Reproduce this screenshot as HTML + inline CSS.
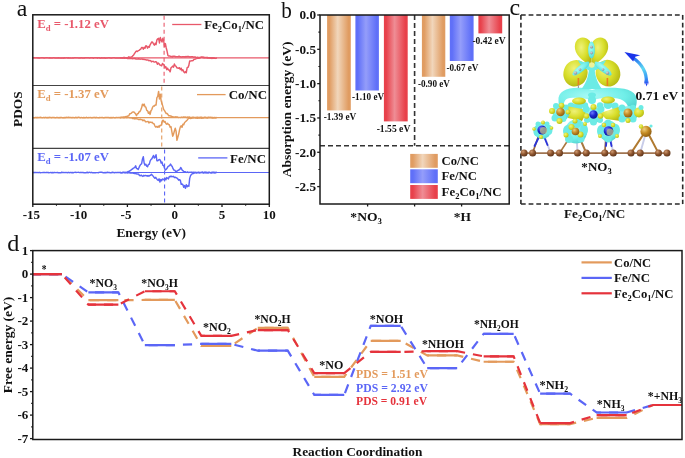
<!DOCTYPE html>
<html><head><meta charset="utf-8"><style>
html,body{margin:0;padding:0;background:#fff;overflow:hidden;}
svg{display:block;will-change:transform;}
</style></head><body>
<svg width="685" height="458" viewBox="0 0 685 458">
<rect width="685" height="458" fill="#fff"/>
<g fill="none" stroke-linejoin="round">
<line x1="32.8" y1="57.9" x2="269.3" y2="57.9" stroke="#e8586a" stroke-width="1.2"/>
<path d="M32.80,57.69 L33.65,57.64 L34.50,57.82 L35.35,57.90 L36.20,57.86 L37.05,57.65 L37.90,58.10 L38.75,57.73 L39.60,58.17 L40.45,57.84 L41.30,57.63 L42.15,57.77 L43.00,57.67 L43.85,58.09 L44.70,57.95 L45.55,57.82 L46.40,57.64 L47.25,57.72 L48.10,57.86 L48.95,57.95 L49.80,57.78 L50.65,58.02 L51.50,57.94 L52.35,58.13 L53.20,57.77 L54.05,57.67 L54.90,58.05 L55.75,57.89 L56.60,58.00 L57.45,57.94 L58.30,57.79 L59.15,57.96 L60.00,57.87 L60.85,58.17 L61.70,58.00 L62.55,58.02 L63.40,58.20 L64.25,57.77 L65.10,58.00 L65.95,57.88 L66.80,57.67 L67.65,58.06 L68.50,57.75 L69.35,58.12 L70.20,57.87 L71.05,58.13 L71.90,58.12 L72.75,57.85 L73.60,58.13 L74.45,57.69 L75.30,57.74 L76.15,57.89 L77.00,57.76 L77.85,57.85 L78.70,57.94 L79.55,58.01 L80.40,57.97 L81.25,57.63 L82.10,58.07 L82.95,58.08 L83.80,57.84 L84.65,57.98 L85.50,57.64 L86.35,57.70 L87.20,57.63 L88.05,57.69 L88.90,57.82 L89.75,58.12 L90.60,57.69 L91.45,57.81 L92.30,57.67 L93.15,58.20 L94.00,57.89 L94.85,57.66 L95.70,57.76 L96.55,57.70 L97.40,58.17 L98.25,57.69 L99.10,57.62 L99.95,58.19 L100.80,58.02 L101.65,57.82 L102.50,58.06 L103.35,58.07 L104.20,57.73 L105.05,58.19 L105.90,58.08 L106.75,58.04 L107.60,57.91 L108.45,57.62 L109.30,57.77 L110.15,58.02 L111.00,57.87 L111.85,58.19 L112.70,57.82 L113.55,57.74 L114.40,57.72 L115.25,58.14 L116.10,57.89 L116.95,58.08 L117.80,58.00 L118.65,58.07 L119.50,57.89 L120.35,58.05 L121.20,58.00 L122.05,57.74 L122.90,57.99 L123.75,57.50 L124.60,57.37 L125.45,57.81 L126.30,57.66 L127.15,57.65 L128.00,57.34 L128.85,56.76 L129.70,57.26 L130.55,57.09 L131.40,56.83 L132.25,56.49 L133.10,55.61 L133.95,54.48 L134.80,53.12 L135.65,51.83 L136.50,51.03 L137.35,51.55 L138.20,50.69 L139.05,50.32 L139.90,49.70 L140.75,49.12 L141.60,47.48 L142.45,47.47 L143.30,49.31 L144.15,47.36 L145.00,48.18 L145.85,45.77 L146.70,45.90 L147.55,48.15 L148.40,46.50 L149.25,47.29 L150.10,44.79 L150.95,43.38 L151.80,41.94 L152.65,42.25 L153.50,43.83 L154.35,45.19 L155.20,43.26 L156.05,44.72 L156.90,39.96 L157.75,38.80 L158.60,38.33 L159.45,42.94 L160.30,37.53 L161.15,40.08 L162.00,41.98 L162.85,38.31 L163.70,41.01 L164.55,46.62 L165.40,43.58 L166.25,48.00 L167.10,51.30 L167.95,55.53 L168.80,56.00 L169.65,55.94 L170.50,56.47 L171.35,56.42 L172.20,56.90 L173.05,56.08 L173.90,56.38 L174.75,56.15 L175.60,56.74 L176.45,56.60 L177.30,56.64 L178.15,56.77 L179.00,56.15 L179.85,56.72 L180.70,56.73 L181.55,56.96 L182.40,56.75 L183.25,56.77 L184.10,56.67 L184.95,57.09 L185.80,56.51 L186.65,56.72 L187.50,56.52 L188.35,56.55 L189.20,56.75 L190.05,56.94 L190.90,56.80 L191.75,56.67 L192.60,56.66 L193.45,57.18 L194.30,56.97 L195.15,57.03 L196.00,57.22 L196.85,57.39 L197.70,57.20 L198.55,57.60 L199.40,57.45 L200.25,57.46 L201.10,57.25 L201.95,57.07 L202.80,57.48 L203.65,57.21 L204.50,57.62 L205.35,57.69 L206.20,57.37 L207.05,57.54 L207.90,57.55 L208.75,57.91 L209.60,57.76 L210.45,57.98 L211.30,57.66 L212.15,57.69 L213.00,57.82 L213.85,57.85 L214.70,57.74" stroke="#e8586a" stroke-width="1.45"/>
<path d="M120.00,57.84 L120.85,57.65 L121.70,57.81 L122.55,58.01 L123.40,58.11 L124.25,58.28 L125.10,58.00 L125.95,57.87 L126.80,58.23 L127.65,58.46 L128.50,58.26 L129.35,58.43 L130.20,58.40 L131.05,58.56 L131.90,58.56 L132.75,58.72 L133.60,58.64 L134.45,58.45 L135.30,58.76 L136.15,59.14 L137.00,58.91 L137.85,58.98 L138.70,58.71 L139.55,59.08 L140.40,59.17 L141.25,58.87 L142.10,59.00 L142.95,59.48 L143.80,59.11 L144.65,59.63 L145.50,59.60 L146.35,60.02 L147.20,59.94 L148.05,59.95 L148.90,60.83 L149.75,60.39 L150.60,60.65 L151.45,61.75 L152.30,61.35 L153.15,61.31 L154.00,61.92 L154.85,62.11 L155.70,61.62 L156.55,62.14 L157.40,64.25 L158.25,63.03 L159.10,63.80 L159.95,65.15 L160.80,65.27 L161.65,65.78 L162.50,63.45 L163.35,64.50 L164.20,64.84 L165.05,67.79 L165.90,66.86 L166.75,69.64 L167.60,68.22 L168.45,70.06 L169.30,69.97 L170.15,71.84 L171.00,67.75 L171.85,67.17 L172.70,66.08 L173.55,67.17 L174.40,64.04 L175.25,65.74 L176.10,66.35 L176.95,68.02 L177.80,67.98 L178.65,68.30 L179.50,67.71 L180.35,69.60 L181.20,68.18 L182.05,70.66 L182.90,69.68 L183.75,71.82 L184.60,72.79 L185.45,71.55 L186.30,72.71 L187.15,67.70 L188.00,67.40 L188.85,65.36 L189.70,60.95 L190.55,61.08 L191.40,60.82 L192.25,60.66 L193.10,60.54 L193.95,59.40 L194.80,59.35 L195.65,58.85 L196.50,58.66 L197.35,58.33 L198.20,58.18 L199.05,58.26 L199.90,57.74 L200.75,57.52 L201.60,57.37 L202.45,57.34 L203.30,57.43 L204.15,57.73 L205.00,57.56 L205.85,57.60 L206.70,57.78 L207.55,58.09 L208.40,57.63 L209.25,58.12 L210.10,58.00 L210.95,57.78 L211.80,58.41 L212.65,58.37 L213.50,58.03 L214.35,58.17 L215.20,58.41 L216.05,58.21 L216.90,58.08" stroke="#e8586a" stroke-width="1.45"/>
<line x1="164.10" y1="15.8" x2="164.10" y2="84.5" stroke="#e8586a" stroke-width="1.1" stroke-dasharray="4,3"/>
<line x1="32.8" y1="117.6" x2="269.3" y2="117.6" stroke="#e39a5c" stroke-width="1.2"/>
<path d="M32.80,117.63 L33.65,117.77 L34.50,117.85 L35.35,117.48 L36.20,117.45 L37.05,117.72 L37.90,117.34 L38.75,117.65 L39.60,117.43 L40.45,117.31 L41.30,117.58 L42.15,117.69 L43.00,117.59 L43.85,117.45 L44.70,117.72 L45.55,117.31 L46.40,117.70 L47.25,117.45 L48.10,117.86 L48.95,117.32 L49.80,117.55 L50.65,117.42 L51.50,117.74 L52.35,117.42 L53.20,117.49 L54.05,117.44 L54.90,117.76 L55.75,117.87 L56.60,117.41 L57.45,117.55 L58.30,117.87 L59.15,117.54 L60.00,117.88 L60.85,117.33 L61.70,117.54 L62.55,117.83 L63.40,117.90 L64.25,117.50 L65.10,117.86 L65.95,117.32 L66.80,117.53 L67.65,117.50 L68.50,117.30 L69.35,117.51 L70.20,117.37 L71.05,117.42 L71.90,117.79 L72.75,117.56 L73.60,117.58 L74.45,117.85 L75.30,117.52 L76.15,117.32 L77.00,117.79 L77.85,117.32 L78.70,117.34 L79.55,117.45 L80.40,117.84 L81.25,117.46 L82.10,117.67 L82.95,117.73 L83.80,117.47 L84.65,117.75 L85.50,117.68 L86.35,117.31 L87.20,117.59 L88.05,117.87 L88.90,117.45 L89.75,117.60 L90.60,117.41 L91.45,117.74 L92.30,117.76 L93.15,117.50 L94.00,117.52 L94.85,117.35 L95.70,117.75 L96.55,117.34 L97.40,117.63 L98.25,117.89 L99.10,117.89 L99.95,117.35 L100.80,117.60 L101.65,117.57 L102.50,117.55 L103.35,117.70 L104.20,117.81 L105.05,117.37 L105.90,117.48 L106.75,117.52 L107.60,117.42 L108.45,117.45 L109.30,117.83 L110.15,117.50 L111.00,117.90 L111.85,117.44 L112.70,117.69 L113.55,117.36 L114.40,117.79 L115.25,117.85 L116.10,117.48 L116.95,117.41 L117.80,117.65 L118.65,117.52 L119.50,117.57 L120.35,117.72 L121.20,117.23 L122.05,117.41 L122.90,117.09 L123.75,116.85 L124.60,116.98 L125.45,116.74 L126.30,116.48 L127.15,116.53 L128.00,115.85 L128.85,115.68 L129.70,113.81 L130.55,113.70 L131.40,113.21 L132.25,112.13 L133.10,111.89 L133.95,112.02 L134.80,112.92 L135.65,114.01 L136.50,115.59 L137.35,113.72 L138.20,113.57 L139.05,111.75 L139.90,111.68 L140.75,109.86 L141.60,107.83 L142.45,104.19 L143.30,105.72 L144.15,104.07 L145.00,106.76 L145.85,107.15 L146.70,110.44 L147.55,110.62 L148.40,113.26 L149.25,111.96 L150.10,114.39 L150.95,110.72 L151.80,109.60 L152.65,107.07 L153.50,105.89 L154.35,106.18 L155.20,105.05 L156.05,105.06 L156.90,97.54 L157.75,96.31 L158.60,91.36 L159.45,98.92 L160.30,94.30 L161.15,100.90 L162.00,103.53 L162.85,106.38 L163.70,109.58 L164.55,110.61 L165.40,112.26 L166.25,113.47 L167.10,113.55 L167.95,114.58 L168.80,115.75 L169.65,115.67 L170.50,115.94 L171.35,116.27 L172.20,116.60 L173.05,116.78 L173.90,116.85 L174.75,117.30 L175.60,116.82 L176.45,117.03 L177.30,116.98 L178.15,117.49 L179.00,117.36 L179.85,117.37 L180.70,117.42 L181.55,117.04 L182.40,117.48 L183.25,117.02 L184.10,117.03 L184.95,117.13 L185.80,117.05 L186.65,117.48 L187.50,117.05 L188.35,117.14 L189.20,117.00 L190.05,117.48 L190.90,117.54 L191.75,117.41 L192.60,117.27 L193.45,117.24 L194.30,117.40 L195.15,117.57 L196.00,117.59 L196.85,117.30 L197.70,117.25 L198.55,117.47 L199.40,117.53 L200.25,117.19 L201.10,117.15 L201.95,117.29 L202.80,117.72 L203.65,117.54 L204.50,117.13 L205.35,117.22 L206.20,117.43 L207.05,117.71 L207.90,117.31 L208.75,117.22 L209.60,117.40 L210.45,117.42 L211.30,117.57 L212.15,117.36 L213.00,117.54 L213.85,117.82 L214.70,117.36 L215.55,117.66 L216.40,117.76" stroke="#e39a5c" stroke-width="1.45"/>
<path d="M120.00,117.46 L120.85,117.69 L121.70,117.51 L122.55,117.57 L123.40,117.74 L124.25,117.84 L125.10,117.62 L125.95,117.44 L126.80,117.77 L127.65,117.63 L128.50,117.39 L129.35,117.66 L130.20,117.73 L131.05,117.61 L131.90,117.95 L132.75,118.58 L133.60,118.41 L134.45,118.93 L135.30,118.55 L136.15,118.68 L137.00,118.90 L137.85,119.03 L138.70,119.55 L139.55,119.49 L140.40,119.27 L141.25,119.65 L142.10,119.77 L142.95,120.82 L143.80,120.04 L144.65,120.36 L145.50,121.88 L146.35,121.83 L147.20,121.64 L148.05,121.38 L148.90,122.99 L149.75,122.09 L150.60,122.19 L151.45,122.49 L152.30,122.31 L153.15,123.56 L154.00,123.74 L154.85,125.77 L155.70,127.08 L156.55,126.46 L157.40,127.27 L158.25,126.11 L159.10,127.28 L159.95,125.41 L160.80,125.57 L161.65,124.20 L162.50,120.47 L163.35,120.33 L164.20,122.17 L165.05,121.55 L165.90,123.56 L166.75,124.19 L167.60,123.34 L168.45,124.52 L169.30,124.78 L170.15,127.13 L171.00,126.67 L171.85,131.54 L172.70,136.22 L173.55,134.17 L174.40,130.99 L175.25,128.24 L176.10,131.39 L176.95,140.31 L177.80,137.20 L178.65,134.27 L179.50,130.02 L180.35,126.85 L181.20,125.74 L182.05,127.35 L182.90,124.16 L183.75,124.74 L184.60,122.55 L185.45,121.76 L186.30,120.89 L187.15,120.22 L188.00,118.92 L188.85,118.18 L189.70,118.40 L190.55,118.47 L191.40,118.30 L192.25,118.04 L193.10,118.10 L193.95,117.79 L194.80,117.73 L195.65,118.00 L196.50,117.98 L197.35,118.30 L198.20,118.05 L199.05,118.15 L199.90,118.03 L200.75,117.89 L201.60,118.20 L202.45,118.05 L203.30,117.92 L204.15,117.90 L205.00,117.89 L205.85,117.65 L206.70,117.74 L207.55,118.00 L208.40,117.62 L209.25,117.69 L210.10,117.55 L210.95,117.56 L211.80,117.83 L212.65,117.99 L213.50,117.62 L214.35,117.82 L215.20,117.60 L216.05,117.71 L216.90,117.43" stroke="#e39a5c" stroke-width="1.45"/>
<line x1="161.74" y1="86.5" x2="161.74" y2="147.4" stroke="#e39a5c" stroke-width="1.1" stroke-dasharray="4,3"/>
<line x1="32.8" y1="172.5" x2="269.3" y2="172.5" stroke="#5b66f6" stroke-width="1.2"/>
<path d="M32.80,172.22 L33.65,172.67 L34.50,172.50 L35.35,172.48 L36.20,172.56 L37.05,172.64 L37.90,172.46 L38.75,172.65 L39.60,172.34 L40.45,172.73 L41.30,172.62 L42.15,172.61 L43.00,172.47 L43.85,172.58 L44.70,172.45 L45.55,172.63 L46.40,172.35 L47.25,172.47 L48.10,172.45 L48.95,172.76 L49.80,172.59 L50.65,172.43 L51.50,172.78 L52.35,172.53 L53.20,172.67 L54.05,172.51 L54.90,172.54 L55.75,172.63 L56.60,172.58 L57.45,172.51 L58.30,172.77 L59.15,172.61 L60.00,172.66 L60.85,172.79 L61.70,172.23 L62.55,172.44 L63.40,172.45 L64.25,172.62 L65.10,172.36 L65.95,172.64 L66.80,172.52 L67.65,172.68 L68.50,172.33 L69.35,172.67 L70.20,172.58 L71.05,172.54 L71.90,172.78 L72.75,172.58 L73.60,172.69 L74.45,172.38 L75.30,172.28 L76.15,172.41 L77.00,172.36 L77.85,172.35 L78.70,172.31 L79.55,172.63 L80.40,172.35 L81.25,172.49 L82.10,172.58 L82.95,172.42 L83.80,172.71 L84.65,172.70 L85.50,172.67 L86.35,172.70 L87.20,172.21 L88.05,172.77 L88.90,172.35 L89.75,172.29 L90.60,172.67 L91.45,172.29 L92.30,172.68 L93.15,172.73 L94.00,172.67 L94.85,172.74 L95.70,172.70 L96.55,172.62 L97.40,172.65 L98.25,172.73 L99.10,172.36 L99.95,172.28 L100.80,172.24 L101.65,172.29 L102.50,172.50 L103.35,172.72 L104.20,172.70 L105.05,172.54 L105.90,172.70 L106.75,172.45 L107.60,172.25 L108.45,172.58 L109.30,172.57 L110.15,172.76 L111.00,172.79 L111.85,172.49 L112.70,172.22 L113.55,172.58 L114.40,172.72 L115.25,172.48 L116.10,172.66 L116.95,172.46 L117.80,172.53 L118.65,172.38 L119.50,172.44 L120.35,172.35 L121.20,172.74 L122.05,172.61 L122.90,172.28 L123.75,172.40 L124.60,172.51 L125.45,172.40 L126.30,172.34 L127.15,172.07 L128.00,171.55 L128.85,171.54 L129.70,170.94 L130.55,170.52 L131.40,169.64 L132.25,169.17 L133.10,168.36 L133.95,167.93 L134.80,167.39 L135.65,165.79 L136.50,168.45 L137.35,168.63 L138.20,169.44 L139.05,167.48 L139.90,165.67 L140.75,164.32 L141.60,163.93 L142.45,159.19 L143.30,156.65 L144.15,162.99 L145.00,165.13 L145.85,164.19 L146.70,166.09 L147.55,166.77 L148.40,164.57 L149.25,164.37 L150.10,161.14 L150.95,159.53 L151.80,158.88 L152.65,157.20 L153.50,155.47 L154.35,158.08 L155.20,157.01 L156.05,154.73 L156.90,160.74 L157.75,160.81 L158.60,159.92 L159.45,159.53 L160.30,160.05 L161.15,163.09 L162.00,161.99 L162.85,165.34 L163.70,165.59 L164.55,168.26 L165.40,170.07 L166.25,169.18 L167.10,168.27 L167.95,166.63 L168.80,166.00 L169.65,165.65 L170.50,164.11 L171.35,165.43 L172.20,166.45 L173.05,168.73 L173.90,170.08 L174.75,170.10 L175.60,171.31 L176.45,171.25 L177.30,171.09 L178.15,170.29 L179.00,170.04 L179.85,169.38 L180.70,167.45 L181.55,168.84 L182.40,170.52 L183.25,170.89 L184.10,171.88 L184.95,171.62 L185.80,172.21 L186.65,172.42 L187.50,171.97 L188.35,172.42 L189.20,172.37 L190.05,172.14 L190.90,172.38 L191.75,172.09 L192.60,172.41 L193.45,172.29 L194.30,172.44 L195.15,172.16 L196.00,172.55 L196.85,172.36 L197.70,172.38 L198.55,172.13 L199.40,172.44 L200.25,172.38 L201.10,172.36 L201.95,172.07 L202.80,172.32 L203.65,172.44 L204.50,172.19 L205.35,172.31 L206.20,172.12 L207.05,172.69 L207.90,172.42 L208.75,172.28 L209.60,172.40 L210.45,172.61 L211.30,172.73 L212.15,172.17 L213.00,172.27 L213.85,172.20 L214.70,172.70 L215.55,172.75 L216.40,172.23" stroke="#5b66f6" stroke-width="1.45"/>
<path d="M120.00,172.44 L120.85,172.81 L121.70,172.61 L122.55,172.86 L123.40,172.55 L124.25,172.45 L125.10,172.94 L125.95,172.46 L126.80,172.68 L127.65,172.97 L128.50,172.49 L129.35,172.92 L130.20,173.13 L131.05,172.75 L131.90,173.14 L132.75,172.80 L133.60,173.31 L134.45,173.47 L135.30,173.55 L136.15,173.71 L137.00,174.10 L137.85,173.94 L138.70,174.24 L139.55,175.58 L140.40,175.66 L141.25,175.13 L142.10,175.91 L142.95,176.39 L143.80,175.33 L144.65,175.81 L145.50,175.47 L146.35,175.66 L147.20,176.16 L148.05,175.50 L148.90,176.18 L149.75,175.48 L150.60,175.23 L151.45,174.33 L152.30,175.19 L153.15,176.12 L154.00,177.33 L154.85,178.29 L155.70,177.39 L156.55,178.60 L157.40,179.69 L158.25,180.40 L159.10,178.84 L159.95,181.98 L160.80,179.50 L161.65,180.72 L162.50,178.99 L163.35,179.11 L164.20,180.16 L165.05,178.24 L165.90,179.80 L166.75,177.53 L167.60,178.22 L168.45,178.87 L169.30,176.57 L170.15,176.81 L171.00,176.09 L171.85,176.66 L172.70,176.58 L173.55,176.32 L174.40,177.56 L175.25,177.24 L176.10,177.59 L176.95,178.05 L177.80,178.85 L178.65,180.18 L179.50,179.69 L180.35,180.36 L181.20,184.32 L182.05,183.90 L182.90,184.79 L183.75,187.28 L184.60,185.63 L185.45,188.23 L186.30,184.75 L187.15,186.74 L188.00,185.62 L188.85,186.22 L189.70,178.37 L190.55,175.65 L191.40,174.50 L192.25,173.71 L193.10,173.51 L193.95,173.23 L194.80,172.78 L195.65,172.70 L196.50,173.05 L197.35,172.89 L198.20,172.60 L199.05,172.93 L199.90,172.68 L200.75,172.82 L201.60,172.61 L202.45,172.58 L203.30,172.98 L204.15,172.84 L205.00,172.51 L205.85,172.95 L206.70,172.67 L207.55,172.68 L208.40,172.94 L209.25,172.54 L210.10,172.55 L210.95,172.91 L211.80,172.84 L212.65,172.78 L213.50,172.59 L214.35,172.80 L215.20,172.49 L216.05,172.44 L216.90,172.24" stroke="#5b66f6" stroke-width="1.45"/>
<line x1="164.58" y1="149.4" x2="164.58" y2="203.2" stroke="#5b66f6" stroke-width="1.1" stroke-dasharray="4,3"/>
</g>
<line x1="32.8" y1="85.5" x2="269.3" y2="85.5" stroke="#444" stroke-width="1.1"/>
<line x1="32.8" y1="148.4" x2="269.3" y2="148.4" stroke="#444" stroke-width="1.1"/>
<rect x="32.8" y="14.8" width="236.50" height="189.40" fill="none" stroke="#1a1a1a" stroke-width="1.5"/>
<line x1="32.80" y1="204.2" x2="32.80" y2="207.0" stroke="#1a1a1a" stroke-width="1.3"/>
<text x="31.40" y="219" font-family="Liberation Serif" font-weight="bold" font-size="13" text-anchor="middle" fill="#111">-15</text>
<line x1="80.10" y1="204.2" x2="80.10" y2="207.0" stroke="#1a1a1a" stroke-width="1.3"/>
<text x="78.70" y="219" font-family="Liberation Serif" font-weight="bold" font-size="13" text-anchor="middle" fill="#111">-10</text>
<line x1="127.40" y1="204.2" x2="127.40" y2="207.0" stroke="#1a1a1a" stroke-width="1.3"/>
<text x="126.00" y="219" font-family="Liberation Serif" font-weight="bold" font-size="13" text-anchor="middle" fill="#111">-5</text>
<line x1="174.70" y1="204.2" x2="174.70" y2="207.0" stroke="#1a1a1a" stroke-width="1.3"/>
<text x="174.70" y="219" font-family="Liberation Serif" font-weight="bold" font-size="13" text-anchor="middle" fill="#111">0</text>
<line x1="222.00" y1="204.2" x2="222.00" y2="207.0" stroke="#1a1a1a" stroke-width="1.3"/>
<text x="222.00" y="219" font-family="Liberation Serif" font-weight="bold" font-size="13" text-anchor="middle" fill="#111">5</text>
<line x1="269.30" y1="204.2" x2="269.30" y2="207.0" stroke="#1a1a1a" stroke-width="1.3"/>
<text x="269.30" y="219" font-family="Liberation Serif" font-weight="bold" font-size="13" text-anchor="middle" fill="#111">10</text>
<line x1="56.45" y1="204.2" x2="56.45" y2="205.79999999999998" stroke="#1a1a1a" stroke-width="1.1"/>
<line x1="103.75" y1="204.2" x2="103.75" y2="205.79999999999998" stroke="#1a1a1a" stroke-width="1.1"/>
<line x1="151.05" y1="204.2" x2="151.05" y2="205.79999999999998" stroke="#1a1a1a" stroke-width="1.1"/>
<line x1="198.35" y1="204.2" x2="198.35" y2="205.79999999999998" stroke="#1a1a1a" stroke-width="1.1"/>
<line x1="245.65" y1="204.2" x2="245.65" y2="205.79999999999998" stroke="#1a1a1a" stroke-width="1.1"/>
<g id="t_energy" transform="translate(116.384,236.700) scale(1.0330,1)"><text x="0" y="0" font-family="Liberation Serif" font-weight="bold" font-size="13" fill="#111">Energy (eV)</text></g>
<g id="t_pdos" transform="translate(22.200,126.918) rotate(-90) scale(1.0240,1)"><text x="0" y="0" font-family="Liberation Serif" font-weight="bold" font-size="13" fill="#111">PDOS</text></g>
<g id="t_a" transform="translate(16.731,15.600) scale(1.0397,1)"><text x="0" y="0" font-family="Liberation Serif" font-size="23" fill="#111">a</text></g>
<g id="t_edr" transform="translate(37.196,27.700) scale(1.0233,1)"><text x="0" y="0" font-family="Liberation Serif" font-weight="bold" font-size="12.5" fill="#e8586a">E<tspan font-size="8.5" dy="3">d</tspan><tspan dy="-3"> = -1.12 eV</tspan></text></g>
<g id="t_edo" transform="translate(37.202,98.100) scale(1.0231,1)"><text x="0" y="0" font-family="Liberation Serif" font-weight="bold" font-size="12.5" fill="#e39a5c">E<tspan font-size="8.5" dy="3">d</tspan><tspan dy="-3"> = -1.37 eV</tspan></text></g>
<g id="t_edb" transform="translate(37.191,160.800) scale(1.0231,1)"><text x="0" y="0" font-family="Liberation Serif" font-weight="bold" font-size="12.5" fill="#5b66f6">E<tspan font-size="8.5" dy="3">d</tspan><tspan dy="-3"> = -1.07 eV</tspan></text></g>
<line x1="172.2" y1="24.5" x2="201.4" y2="24.5" stroke="#e8586a" stroke-width="1.3"/>
<line x1="197" y1="94.6" x2="225.6" y2="94.6" stroke="#e39a5c" stroke-width="1.3"/>
<line x1="198.2" y1="157.9" x2="227.4" y2="157.9" stroke="#5b66f6" stroke-width="1.3"/>
<g id="t_lga1" transform="translate(204.195,28.900) scale(1.0350,1)"><text x="0" y="0" font-family="Liberation Serif" font-weight="bold" font-size="12.4" fill="#111">Fe<tspan font-size="8.2" dy="3">2</tspan><tspan dy="-3">Co</tspan><tspan font-size="8.2" dy="3">1</tspan><tspan dy="-3">/NC</tspan></text></g>
<g id="t_lga2" transform="translate(228.674,99.000) scale(1.0517,1)"><text x="0" y="0" font-family="Liberation Serif" font-weight="bold" font-size="12.4" fill="#111">Co/NC</text></g>
<g id="t_lga3" transform="translate(230.032,162.600) scale(1.0448,1)"><text x="0" y="0" font-family="Liberation Serif" font-weight="bold" font-size="12.4" fill="#111">Fe/NC</text></g>
<defs>
<linearGradient id="go" x1="0" x2="1" y1="0" y2="0"><stop offset="0" stop-color="#e09c62"/><stop offset="0.1" stop-color="#e09c62"/><stop offset="0.45" stop-color="#f1d6bb"/><stop offset="0.9" stop-color="#e09c62"/><stop offset="1" stop-color="#e09c62"/></linearGradient>
<linearGradient id="gb" x1="0" x2="1" y1="0" y2="0"><stop offset="0" stop-color="#6070f8"/><stop offset="0.1" stop-color="#6070f8"/><stop offset="0.45" stop-color="#949dfa"/><stop offset="0.9" stop-color="#6070f8"/><stop offset="1" stop-color="#6070f8"/></linearGradient>
<linearGradient id="gr" x1="0" x2="1" y1="0" y2="0"><stop offset="0" stop-color="#e8414b"/><stop offset="0.1" stop-color="#e8414b"/><stop offset="0.45" stop-color="#ef8d95"/><stop offset="0.9" stop-color="#e8414b"/><stop offset="1" stop-color="#e8414b"/></linearGradient>
</defs>
<rect x="327.1" y="15.0" width="23.70" height="95.41" fill="url(#go)"/>
<g id="t_bar0" transform="translate(323.699,120.100) scale(0.9699,1)"><text x="0" y="0" font-family="Liberation Serif" font-weight="bold" font-size="9.6" fill="#111">-1.39 eV</text></g>
<rect x="355.4" y="15.0" width="23.50" height="75.50" fill="url(#gb)"/>
<g id="t_bar1" transform="translate(352.042,99.700) scale(0.9583,1)"><text x="0" y="0" font-family="Liberation Serif" font-weight="bold" font-size="9.6" fill="#111">-1.10 eV</text></g>
<rect x="383.9" y="15.0" width="23.80" height="106.39" fill="url(#gr)"/>
<g id="t_bar2" transform="translate(376.661,131.900) scale(1.0034,1)"><text x="0" y="0" font-family="Liberation Serif" font-weight="bold" font-size="9.6" fill="#111">-1.55 eV</text></g>
<rect x="421.9" y="15.0" width="23.40" height="61.78" fill="url(#go)"/>
<g id="t_bar3" transform="translate(417.962,86.700) scale(0.9517,1)"><text x="0" y="0" font-family="Liberation Serif" font-weight="bold" font-size="9.6" fill="#111">-0.90 eV</text></g>
<rect x="449.8" y="15.0" width="23.80" height="45.99" fill="url(#gb)"/>
<g id="t_bar4" transform="translate(446.468,70.800) scale(0.9507,1)"><text x="0" y="0" font-family="Liberation Serif" font-weight="bold" font-size="9.6" fill="#111">-0.67 eV</text></g>
<rect x="478.4" y="15.0" width="23.80" height="18.40" fill="url(#gr)"/>
<g id="t_bar5" transform="translate(472.429,43.900) scale(0.9927,1)"><text x="0" y="0" font-family="Liberation Serif" font-weight="bold" font-size="9.6" fill="#111">-0.42 eV</text></g>
<line x1="320.0" y1="145.8" x2="509.2" y2="145.8" stroke="#333" stroke-width="1.6" stroke-dasharray="5,3"/>
<line x1="414.6" y1="15.0" x2="414.6" y2="145.8" stroke="#333" stroke-width="1.6" stroke-dasharray="5,3"/>
<rect x="320.0" y="15.0" width="189.20" height="189.00" fill="none" stroke="#1a1a1a" stroke-width="1.5"/>
<line x1="317.2" y1="15.00" x2="320.0" y2="15.00" stroke="#1a1a1a" stroke-width="1.3"/>
<text x="316.0" y="19.30" font-family="Liberation Serif" font-weight="bold" font-size="13.2" text-anchor="end" fill="#111">0.0</text>
<line x1="318.4" y1="32.16" x2="320.0" y2="32.16" stroke="#1a1a1a" stroke-width="1.1"/>
<line x1="317.2" y1="49.32" x2="320.0" y2="49.32" stroke="#1a1a1a" stroke-width="1.3"/>
<text x="316.0" y="53.62" font-family="Liberation Serif" font-weight="bold" font-size="13.2" text-anchor="end" fill="#111">-0.5</text>
<line x1="318.4" y1="66.48" x2="320.0" y2="66.48" stroke="#1a1a1a" stroke-width="1.1"/>
<line x1="317.2" y1="83.64" x2="320.0" y2="83.64" stroke="#1a1a1a" stroke-width="1.3"/>
<text x="316.0" y="87.94" font-family="Liberation Serif" font-weight="bold" font-size="13.2" text-anchor="end" fill="#111">-1.0</text>
<line x1="318.4" y1="100.80" x2="320.0" y2="100.80" stroke="#1a1a1a" stroke-width="1.1"/>
<line x1="317.2" y1="117.96" x2="320.0" y2="117.96" stroke="#1a1a1a" stroke-width="1.3"/>
<text x="316.0" y="122.26" font-family="Liberation Serif" font-weight="bold" font-size="13.2" text-anchor="end" fill="#111">-1.5</text>
<line x1="318.4" y1="135.12" x2="320.0" y2="135.12" stroke="#1a1a1a" stroke-width="1.1"/>
<line x1="317.2" y1="152.28" x2="320.0" y2="152.28" stroke="#1a1a1a" stroke-width="1.3"/>
<text x="316.0" y="156.58" font-family="Liberation Serif" font-weight="bold" font-size="13.2" text-anchor="end" fill="#111">-2.0</text>
<line x1="318.4" y1="169.44" x2="320.0" y2="169.44" stroke="#1a1a1a" stroke-width="1.1"/>
<line x1="317.2" y1="186.60" x2="320.0" y2="186.60" stroke="#1a1a1a" stroke-width="1.3"/>
<text x="316.0" y="190.90" font-family="Liberation Serif" font-weight="bold" font-size="13.2" text-anchor="end" fill="#111">-2.5</text>
<line x1="367.6" y1="204.0" x2="367.6" y2="206.5" stroke="#1a1a1a" stroke-width="1.3"/>
<line x1="414.6" y1="204.0" x2="414.6" y2="206.5" stroke="#1a1a1a" stroke-width="1.3"/>
<line x1="461.6" y1="204.0" x2="461.6" y2="206.5" stroke="#1a1a1a" stroke-width="1.3"/>
<g id="t_catno3" transform="translate(350.368,220.900) scale(1.0755,1)"><text x="0" y="0" font-family="Liberation Serif" font-weight="bold" font-size="12.6" fill="#111">*NO<tspan font-size="8.2" dy="3">3</tspan></text></g>
<g id="t_cath" transform="translate(453.747,220.900) scale(1.0667,1)"><text x="0" y="0" font-family="Liberation Serif" font-weight="bold" font-size="12.6" fill="#111">*H</text></g>
<g id="t_abs" transform="translate(291.400,177.209) rotate(-90) scale(1.0152,1)"><text x="0" y="0" font-family="Liberation Serif" font-weight="bold" font-size="13.3" fill="#111">Absorption energy (eV)</text></g>
<g id="t_b" transform="translate(281.315,17.500) scale(0.9206,1)"><text x="0" y="0" font-family="Liberation Serif" font-size="23" fill="#111">b</text></g>
<rect x="410.2" y="153.9" width="27.6" height="13.9" fill="url(#go)"/>
<g id="t_lgb0" transform="translate(441.579,165.300) scale(1.0226,1)"><text x="0" y="0" font-family="Liberation Serif" font-weight="bold" font-size="12.4" fill="#111">Co/NC</text></g>
<rect x="410.2" y="169.3" width="27.6" height="13.9" fill="url(#gb)"/>
<g id="t_lgb1" transform="translate(441.567,180.400) scale(1.0310,1)"><text x="0" y="0" font-family="Liberation Serif" font-weight="bold" font-size="12.4" fill="#111">Fe/NC</text></g>
<rect x="410.2" y="185" width="27.6" height="13.9" fill="url(#gr)"/>
<g id="t_lgb2" transform="translate(441.559,195.900) scale(1.0394,1)"><text x="0" y="0" font-family="Liberation Serif" font-weight="bold" font-size="12.4" fill="#111">Fe<tspan font-size="8.2" dy="3">2</tspan><tspan dy="-3">Co</tspan><tspan font-size="8.2" dy="3">1</tspan><tspan dy="-3">/NC</tspan></text></g>
<line x1="520.9" y1="15.0" x2="682.7" y2="15.0" stroke="#2a2a2a" stroke-width="1.6" stroke-dasharray="4.8,2.9"/>
<line x1="682.7" y1="15.0" x2="682.7" y2="204.0" stroke="#2a2a2a" stroke-width="1.6" stroke-dasharray="4.8,2.9"/>
<line x1="520.9" y1="204.0" x2="682.7" y2="204.0" stroke="#2a2a2a" stroke-width="1.6" stroke-dasharray="4.8,2.9"/>
<line x1="520.9" y1="15.0" x2="520.9" y2="204.0" stroke="#2a2a2a" stroke-width="1.6" stroke-dasharray="4.8,2.9"/>
<defs>
<radialGradient id="gy" cx="0.38" cy="0.35" r="0.7"><stop offset="0" stop-color="#eef27a"/><stop offset="0.55" stop-color="#d8de2a"/><stop offset="1" stop-color="#b4b814"/></radialGradient>
<radialGradient id="gc" cx="0.4" cy="0.35" r="0.75"><stop offset="0" stop-color="#a8faf5"/><stop offset="0.6" stop-color="#70eee8"/><stop offset="1" stop-color="#4ccfcc"/></radialGradient>
<radialGradient id="gau" cx="0.35" cy="0.3" r="0.75"><stop offset="0" stop-color="#f0cf7a"/><stop offset="0.5" stop-color="#c48a24"/><stop offset="1" stop-color="#8a5a10"/></radialGradient>
<radialGradient id="gbr" cx="0.35" cy="0.3" r="0.75"><stop offset="0" stop-color="#d09a70"/><stop offset="0.5" stop-color="#8e5630"/><stop offset="1" stop-color="#5a3218"/></radialGradient>
<radialGradient id="gbl" cx="0.35" cy="0.3" r="0.75"><stop offset="0" stop-color="#6a78ff"/><stop offset="0.5" stop-color="#1a28d0"/><stop offset="1" stop-color="#0a1490"/></radialGradient>
<radialGradient id="ggr" cx="0.35" cy="0.3" r="0.75"><stop offset="0" stop-color="#d8d8d8"/><stop offset="1" stop-color="#808890"/></radialGradient>
<linearGradient id="garr" gradientUnits="userSpaceOnUse" x1="646" y1="86" x2="628" y2="53"><stop offset="0" stop-color="#2040f0"/><stop offset="0.2" stop-color="#3a9cf4"/><stop offset="0.45" stop-color="#5ed8f2"/><stop offset="0.75" stop-color="#2c7cf0"/><stop offset="1" stop-color="#1430e8"/></linearGradient>
</defs>
<line x1="538.5" y1="136" x2="532.6" y2="153.1" stroke="#9a6a40" stroke-width="1.7" stroke-linecap="round"/>
<line x1="539.5" y1="136" x2="534.5" y2="146" stroke="#2a34d8" stroke-width="1.8" stroke-linecap="round"/>
<line x1="544.5" y1="136" x2="550.6" y2="153.1" stroke="#c8cce8" stroke-width="1.9" stroke-linecap="round"/>
<line x1="543.8" y1="136" x2="547.5" y2="145" stroke="#2a34d8" stroke-width="1.8" stroke-linecap="round"/>
<line x1="572" y1="134" x2="559.5" y2="153.1" stroke="#a87840" stroke-width="1.7" stroke-linecap="round"/>
<line x1="576.5" y1="134" x2="577.5" y2="153.1" stroke="#c8cce8" stroke-width="1.9" stroke-linecap="round"/>
<line x1="578" y1="134" x2="586.3" y2="153.1" stroke="#a87840" stroke-width="2" stroke-linecap="round"/>
<line x1="606" y1="136" x2="604.8" y2="153.1" stroke="#9a6a40" stroke-width="1.7" stroke-linecap="round"/>
<line x1="607" y1="136" x2="606" y2="146" stroke="#2a34d8" stroke-width="1.8" stroke-linecap="round"/>
<line x1="610" y1="136" x2="613.3" y2="153.1" stroke="#c8cce8" stroke-width="1.9" stroke-linecap="round"/>
<line x1="609.5" y1="136" x2="611.5" y2="146" stroke="#2a34d8" stroke-width="1.8" stroke-linecap="round"/>
<line x1="643" y1="135" x2="631.0" y2="153.1" stroke="#b07a30" stroke-width="2" stroke-linecap="round"/>
<line x1="645" y1="136" x2="640.2" y2="153.1" stroke="#c8cce8" stroke-width="1.9" stroke-linecap="round"/>
<line x1="649" y1="135" x2="658.5" y2="153.1" stroke="#b07a30" stroke-width="2" stroke-linecap="round"/>
<line x1="522" y1="153.1" x2="669" y2="153.1" stroke="#a07450" stroke-width="1.8"/>
<circle cx="524.1" cy="153.1" r="3.5" fill="url(#gbr)"/>
<circle cx="532.6" cy="153.1" r="3.5" fill="url(#gbr)"/>
<circle cx="550.6" cy="153.1" r="3.5" fill="url(#gbr)"/>
<circle cx="559.5" cy="153.1" r="3.5" fill="url(#gbr)"/>
<circle cx="577.5" cy="153.1" r="3.5" fill="url(#gbr)"/>
<circle cx="586.3" cy="153.1" r="3.5" fill="url(#gbr)"/>
<circle cx="604.8" cy="153.1" r="3.5" fill="url(#gbr)"/>
<circle cx="613.3" cy="153.1" r="3.5" fill="url(#gbr)"/>
<circle cx="631.0" cy="153.1" r="3.5" fill="url(#gbr)"/>
<circle cx="640.2" cy="153.1" r="3.5" fill="url(#gbr)"/>
<circle cx="658.5" cy="153.1" r="3.5" fill="url(#gbr)"/>
<circle cx="667.0" cy="153.1" r="3.5" fill="url(#gbr)"/>
<path d="M558.5,101 C557.5,92 566,87.8 578,87.8 C586,87.8 589,89 592,90 C596,88.5 602,87.8 610,87.8 C624,87.8 635,90 636.5,98 C637.5,104 635.5,108 633.5,111.5 L628.5,110 C628.5,104 624,98.5 614,98 C604,97.5 598,98.5 592,100.5 C586,98.5 580,97.5 570,98 C563.5,98.5 563.5,104 563.5,111 L559,110.5 Z" fill="url(#gc)"/>
<circle cx="571" cy="106" r="3.6" fill="#6cebe5"/>
<circle cx="578" cy="106.5" r="4.5" fill="#6cebe5"/>
<circle cx="585" cy="105.5" r="3.2" fill="#6cebe5"/>
<circle cx="600" cy="105.5" r="3.2" fill="#6cebe5"/>
<circle cx="608" cy="104.5" r="4.5" fill="#6cebe5"/>
<circle cx="615" cy="106" r="3.6" fill="#6cebe5"/>
<circle cx="592" cy="100" r="4" fill="#6cebe5"/>
<path d="M589.3,64 L594.3,64 C594.6,74 596.5,82 602,89 L581.5,89 C587,82 589,74 589.3,64 Z" fill="#6cebe5"/>
<ellipse cx="575.5" cy="73.2" rx="12" ry="13.4" fill="url(#gy)" transform="rotate(18 575.5 73.2)"/>
<ellipse cx="608" cy="73.2" rx="12.2" ry="13.4" fill="url(#gy)" transform="rotate(-18 608 73.2)"/>
<path d="M591.5,66 C586,63 576.5,57.5 575,49 C574,42 577.5,37.8 582.5,37.6 C587.5,37.4 590.8,41 591.5,46 Z" fill="url(#gy)"/>
<path d="M591.5,66 C597,63 606.5,57.5 608,49 C609,42 605.5,37.8 600.5,37.6 C595.5,37.4 592.2,41 591.5,46 Z" fill="url(#gy)"/>
<path d="M578,60 C584,63 588,62 592,66 C596,62 600,63 606,60 C604,66 598,69 592,72 C586,69 580,66 578,60 Z" fill="#6cebe5"/>
<ellipse cx="581" cy="68.5" rx="10.5" ry="3.3" fill="url(#gc)" transform="rotate(-38 581 68.5)"/>
<ellipse cx="603" cy="68.5" rx="10.5" ry="3.3" fill="url(#gc)" transform="rotate(38 603 68.5)"/>
<ellipse cx="591.5" cy="50" rx="3.4" ry="8.5" fill="url(#gc)"/>
<circle cx="591.5" cy="47" r="1.6" fill="url(#ggr)"/>
<circle cx="591.5" cy="53" r="1.4" fill="url(#ggr)"/>
<circle cx="575.5" cy="73" r="1.8" fill="url(#ggr)"/>
<circle cx="580" cy="69.5" r="1.3" fill="url(#ggr)"/>
<circle cx="607.5" cy="73" r="1.8" fill="url(#ggr)"/>
<circle cx="603" cy="69.5" r="1.3" fill="url(#ggr)"/>
<circle cx="591.8" cy="65" r="2.8" fill="#eef29a"/>
<rect x="577.6" y="78" width="1.6" height="8" fill="#e8801e"/>
<rect x="606.6" y="78" width="1.6" height="8" fill="#e8801e"/>
<rect x="577.8" y="85" width="1.2" height="3" fill="#a0a0a0"/>
<ellipse cx="579" cy="101" rx="7" ry="3.5" fill="url(#gy)"/>
<ellipse cx="608" cy="100" rx="7" ry="3.5" fill="url(#gy)"/>
<ellipse cx="592" cy="95" rx="4" ry="2.5" fill="#6cebe5"/>
<path d="M566,106 L588,110 L582,121 L568,118 Z" fill="url(#gy)"/>
<path d="M600,113 L622,106 L621,121 L606,119 Z" fill="url(#gy)"/>
<ellipse cx="561" cy="112.5" rx="8.5" ry="8.5" fill="url(#gc)"/>
<ellipse cx="593.5" cy="115" rx="8.5" ry="8" fill="url(#gc)"/>
<ellipse cx="629" cy="113.5" rx="9.5" ry="7.5" fill="url(#gc)"/>
<ellipse cx="542.5" cy="130.5" rx="8.5" ry="8.5" fill="url(#gc)"/>
<ellipse cx="576" cy="131.5" rx="11" ry="12" fill="url(#gc)"/>
<ellipse cx="608.5" cy="131" rx="9.5" ry="10.5" fill="url(#gc)"/>
<ellipse cx="556" cy="106" rx="3" ry="3" fill="#6cebe5"/>
<ellipse cx="555" cy="118" rx="3.5" ry="3.5" fill="#6cebe5"/>
<ellipse cx="563" cy="118.5" rx="3.5" ry="3.5" fill="#6cebe5"/>
<ellipse cx="566" cy="107" rx="2.5" ry="2.5" fill="#6cebe5"/>
<ellipse cx="552" cy="111" rx="3" ry="3" fill="url(#gy)"/>
<ellipse cx="561.5" cy="105.5" rx="2.8" ry="2.8" fill="url(#gy)"/>
<ellipse cx="559.5" cy="121" rx="3" ry="3" fill="url(#gy)"/>
<ellipse cx="568" cy="112" rx="2.5" ry="2.5" fill="url(#gy)"/>
<circle cx="560.5" cy="112" r="4.3" fill="url(#gau)"/>
<ellipse cx="586" cy="109" rx="3.5" ry="3.5" fill="#6cebe5"/>
<ellipse cx="601" cy="109" rx="3.5" ry="3.5" fill="#6cebe5"/>
<ellipse cx="593.5" cy="122" rx="3.5" ry="3.5" fill="#6cebe5"/>
<ellipse cx="587" cy="120" rx="3" ry="3" fill="#6cebe5"/>
<ellipse cx="600" cy="120" rx="3" ry="3" fill="#6cebe5"/>
<ellipse cx="593.5" cy="107" rx="3" ry="3" fill="url(#gy)"/>
<ellipse cx="586.5" cy="116" rx="2.8" ry="2.8" fill="url(#gy)"/>
<ellipse cx="600.5" cy="116" rx="2.8" ry="2.8" fill="url(#gy)"/>
<circle cx="593.5" cy="114.5" r="4.2" fill="url(#gbl)"/>
<ellipse cx="622" cy="108" rx="3.5" ry="3.5" fill="#6cebe5"/>
<ellipse cx="633" cy="108" rx="3.2" ry="3.2" fill="#6cebe5"/>
<ellipse cx="622" cy="119" rx="3.5" ry="3.5" fill="#6cebe5"/>
<ellipse cx="633" cy="119" rx="3.5" ry="3.5" fill="#6cebe5"/>
<ellipse cx="628" cy="120.5" rx="2.5" ry="2.5" fill="url(#gy)"/>
<ellipse cx="639" cy="112.5" rx="5" ry="5" fill="url(#gy)"/>
<ellipse cx="641" cy="107.5" rx="2.5" ry="2.5" fill="#6cebe5"/>
<circle cx="628" cy="113" r="4.5" fill="url(#gau)"/>
<ellipse cx="536.5" cy="131" rx="3.2" ry="5.2" fill="#6cebe5"/>
<ellipse cx="549.5" cy="130" rx="3" ry="5" fill="#6cebe5"/>
<ellipse cx="538" cy="124" rx="2.5" ry="2.5" fill="#6cebe5"/>
<ellipse cx="547" cy="124" rx="2.5" ry="2.5" fill="#6cebe5"/>
<ellipse cx="543" cy="122.5" rx="2" ry="2" fill="url(#gy)"/>
<ellipse cx="534" cy="129" rx="1.8" ry="1.8" fill="url(#gy)"/>
<ellipse cx="551.5" cy="128" rx="1.8" ry="1.8" fill="url(#gy)"/>
<ellipse cx="541" cy="137" rx="2" ry="2" fill="url(#gy)"/>
<circle cx="542" cy="130" r="4.6" fill="url(#gbl)"/>
<circle cx="543.5" cy="130.5" r="3.6" fill="#c0c088" opacity="0.75"/>
<ellipse cx="567.5" cy="131" rx="4.5" ry="6" fill="#6cebe5"/>
<ellipse cx="584" cy="130" rx="4" ry="6" fill="#6cebe5"/>
<ellipse cx="577" cy="123.5" rx="4.5" ry="4.5" fill="#6cebe5"/>
<ellipse cx="569" cy="139" rx="4" ry="4" fill="#6cebe5"/>
<ellipse cx="581" cy="139" rx="3.5" ry="3.5" fill="#6cebe5"/>
<ellipse cx="571.5" cy="127" rx="3" ry="3" fill="url(#gy)"/>
<ellipse cx="580.5" cy="134.5" rx="3" ry="3" fill="url(#gy)"/>
<ellipse cx="566" cy="135" rx="2.5" ry="2.5" fill="url(#gy)"/>
<ellipse cx="575" cy="121" rx="2.5" ry="2.5" fill="url(#gy)"/>
<ellipse cx="585" cy="124" rx="2" ry="2" fill="url(#gy)"/>
<circle cx="575.5" cy="131.5" r="3.8" fill="url(#gau)"/>
<ellipse cx="601" cy="131" rx="4" ry="6" fill="#6cebe5"/>
<ellipse cx="616" cy="130" rx="4" ry="6" fill="#6cebe5"/>
<ellipse cx="608" cy="123" rx="3.5" ry="3.5" fill="#6cebe5"/>
<ellipse cx="608" cy="139" rx="3.5" ry="3.5" fill="#6cebe5"/>
<ellipse cx="604" cy="125" rx="2.2" ry="2.2" fill="url(#gy)"/>
<ellipse cx="613" cy="125" rx="2.2" ry="2.2" fill="url(#gy)"/>
<ellipse cx="600" cy="136" rx="2" ry="2" fill="url(#gy)"/>
<ellipse cx="617" cy="136" rx="2" ry="2" fill="url(#gy)"/>
<circle cx="608.5" cy="131" r="4.8" fill="url(#gbl)"/>
<circle cx="610" cy="132" r="3.5" fill="#c0c088" opacity="0.75"/>
<circle cx="646" cy="131.4" r="5.6" fill="url(#gau)"/>
<circle cx="641" cy="126.5" r="2.2" fill="url(#gy)"/>
<circle cx="651" cy="126" r="1.6" fill="#6cebe5"/>
<path d="M646.3,83 C647,73 641.5,63.5 632,57" fill="none" stroke="url(#garr)" stroke-width="3.3" stroke-linecap="butt"/>
<path d="M624.4,52.1 L640.2,55.2 L635.2,56.8 L633.2,61.6 Z" fill="#1a34ea"/>
<path d="M644.2,80 L646.6,86.6 L648.8,80 L648.2,84.5 L646.6,83 L644.8,84.5 Z" fill="#2040f0"/>
<g id="t_c" transform="translate(509.614,14.900) scale(1.0397,1)"><text x="0" y="0" font-family="Liberation Serif" font-size="23" fill="#111">c</text></g>
<g id="t_071" transform="translate(635.572,100.100) scale(1.0156,1)"><text x="0" y="0" font-family="Liberation Serif" font-weight="bold" font-size="13.3" fill="#111">0.71 eV</text></g>
<g id="t_cno3" transform="translate(581.372,171.400) scale(1.0354,1)"><text x="0" y="0" font-family="Liberation Serif" font-weight="bold" font-size="12.6" fill="#111">*NO<tspan font-size="8.2" dy="3">3</tspan></text></g>
<g id="t_cfe" transform="translate(564.076,217.700) scale(1.0455,1)"><text x="0" y="0" font-family="Liberation Serif" font-weight="bold" font-size="12.6" fill="#111">Fe<tspan font-size="8.2" dy="3">2</tspan><tspan dy="-3">Co</tspan><tspan font-size="8.2" dy="3">1</tspan><tspan dy="-3">/NC</tspan></text></g>
<line x1="29.999999999999996" y1="250.60" x2="32.8" y2="250.60" stroke="#1a1a1a" stroke-width="1.3"/>
<text x="28.3" y="254.80" font-family="Liberation Serif" font-weight="bold" font-size="13" text-anchor="end" fill="#111">1</text>
<line x1="31.199999999999996" y1="262.35" x2="32.8" y2="262.35" stroke="#1a1a1a" stroke-width="1.1"/>
<line x1="29.999999999999996" y1="274.10" x2="32.8" y2="274.10" stroke="#1a1a1a" stroke-width="1.3"/>
<text x="28.3" y="278.30" font-family="Liberation Serif" font-weight="bold" font-size="13" text-anchor="end" fill="#111">0</text>
<line x1="31.199999999999996" y1="285.85" x2="32.8" y2="285.85" stroke="#1a1a1a" stroke-width="1.1"/>
<line x1="29.999999999999996" y1="297.60" x2="32.8" y2="297.60" stroke="#1a1a1a" stroke-width="1.3"/>
<text x="28.3" y="301.80" font-family="Liberation Serif" font-weight="bold" font-size="13" text-anchor="end" fill="#111">-1</text>
<line x1="31.199999999999996" y1="309.35" x2="32.8" y2="309.35" stroke="#1a1a1a" stroke-width="1.1"/>
<line x1="29.999999999999996" y1="321.10" x2="32.8" y2="321.10" stroke="#1a1a1a" stroke-width="1.3"/>
<text x="28.3" y="325.30" font-family="Liberation Serif" font-weight="bold" font-size="13" text-anchor="end" fill="#111">-2</text>
<line x1="31.199999999999996" y1="332.85" x2="32.8" y2="332.85" stroke="#1a1a1a" stroke-width="1.1"/>
<line x1="29.999999999999996" y1="344.60" x2="32.8" y2="344.60" stroke="#1a1a1a" stroke-width="1.3"/>
<text x="28.3" y="348.80" font-family="Liberation Serif" font-weight="bold" font-size="13" text-anchor="end" fill="#111">-3</text>
<line x1="31.199999999999996" y1="356.35" x2="32.8" y2="356.35" stroke="#1a1a1a" stroke-width="1.1"/>
<line x1="29.999999999999996" y1="368.10" x2="32.8" y2="368.10" stroke="#1a1a1a" stroke-width="1.3"/>
<text x="28.3" y="372.30" font-family="Liberation Serif" font-weight="bold" font-size="13" text-anchor="end" fill="#111">-4</text>
<line x1="31.199999999999996" y1="379.85" x2="32.8" y2="379.85" stroke="#1a1a1a" stroke-width="1.1"/>
<line x1="29.999999999999996" y1="391.60" x2="32.8" y2="391.60" stroke="#1a1a1a" stroke-width="1.3"/>
<text x="28.3" y="395.80" font-family="Liberation Serif" font-weight="bold" font-size="13" text-anchor="end" fill="#111">-5</text>
<line x1="31.199999999999996" y1="403.35" x2="32.8" y2="403.35" stroke="#1a1a1a" stroke-width="1.1"/>
<line x1="29.999999999999996" y1="415.10" x2="32.8" y2="415.10" stroke="#1a1a1a" stroke-width="1.3"/>
<text x="28.3" y="419.30" font-family="Liberation Serif" font-weight="bold" font-size="13" text-anchor="end" fill="#111">-6</text>
<line x1="31.199999999999996" y1="426.85" x2="32.8" y2="426.85" stroke="#1a1a1a" stroke-width="1.1"/>
<line x1="29.999999999999996" y1="438.60" x2="32.8" y2="438.60" stroke="#1a1a1a" stroke-width="1.3"/>
<text x="28.3" y="442.80" font-family="Liberation Serif" font-weight="bold" font-size="13" text-anchor="end" fill="#111">-7</text>
<g id="t_rc" transform="translate(292.586,455.600) scale(1.0018,1)"><text x="0" y="0" font-family="Liberation Serif" font-weight="bold" font-size="13.3" fill="#111">Reaction Coordination</text></g>
<g id="t_fe" transform="translate(12.100,393.210) rotate(-90) scale(1.0170,1)"><text x="0" y="0" font-family="Liberation Serif" font-weight="bold" font-size="13.3" fill="#111">Free energy (eV)</text></g>
<g id="t_d" transform="translate(7.258,250.700) scale(1.0500,1)"><text x="0" y="0" font-family="Liberation Serif" font-size="23" fill="#111">d</text></g>
<clipPath id="clipd"><rect x="32.8" y="250.6" width="649.2" height="188.9"/></clipPath>
<g clip-path="url(#clipd)">
<path d="M31.90,274.10 L61.90,274.10 L88.37,300.19 L118.37,300.19 L144.84,299.95 L174.84,299.95 L201.31,345.78 L231.31,345.78 L257.78,327.92 L287.78,327.92 L314.25,376.80 L344.25,376.80 L370.72,340.84 L400.72,340.84 L427.19,355.41 L457.19,355.41 L483.66,361.75 L513.66,361.75 L540.13,424.03 L570.13,424.03 L596.60,417.92 L626.60,417.92 L653.07,405.00 L683.07,405.00" fill="none" stroke="#e39a5c" stroke-width="2.2" stroke-dasharray="9.2,8" stroke-dashoffset="0"/>
<line x1="31.90" y1="274.10" x2="61.90" y2="274.10" stroke="#e39a5c" stroke-width="2.2"/>
<line x1="88.37" y1="300.19" x2="118.37" y2="300.19" stroke="#e39a5c" stroke-width="2.2"/>
<line x1="144.84" y1="299.95" x2="174.84" y2="299.95" stroke="#e39a5c" stroke-width="2.2"/>
<line x1="201.31" y1="345.78" x2="231.31" y2="345.78" stroke="#e39a5c" stroke-width="2.2"/>
<line x1="257.78" y1="327.92" x2="287.78" y2="327.92" stroke="#e39a5c" stroke-width="2.2"/>
<line x1="314.25" y1="376.80" x2="344.25" y2="376.80" stroke="#e39a5c" stroke-width="2.2"/>
<line x1="370.72" y1="340.84" x2="400.72" y2="340.84" stroke="#e39a5c" stroke-width="2.2"/>
<line x1="427.19" y1="355.41" x2="457.19" y2="355.41" stroke="#e39a5c" stroke-width="2.2"/>
<line x1="483.66" y1="361.75" x2="513.66" y2="361.75" stroke="#e39a5c" stroke-width="2.2"/>
<line x1="540.13" y1="424.03" x2="570.13" y2="424.03" stroke="#e39a5c" stroke-width="2.2"/>
<line x1="596.60" y1="417.92" x2="626.60" y2="417.92" stroke="#e39a5c" stroke-width="2.2"/>
<line x1="653.07" y1="405.00" x2="683.07" y2="405.00" stroke="#e39a5c" stroke-width="2.2"/>
<path d="M31.90,274.10 L61.90,274.10 L88.37,292.43 L118.37,292.43 L144.84,345.07 L174.84,345.07 L201.31,343.90 L231.31,343.90 L257.78,350.71 L287.78,350.71 L314.25,394.89 L344.25,394.89 L370.72,325.80 L400.72,325.80 L427.19,368.10 L457.19,368.10 L483.66,333.79 L513.66,333.79 L540.13,393.72 L570.13,393.72 L596.60,412.51 L626.60,412.51 L653.07,405.00 L683.07,405.00" fill="none" stroke="#5b66f6" stroke-width="2.2" stroke-dasharray="9.2,8" stroke-dashoffset="0"/>
<line x1="31.90" y1="274.10" x2="61.90" y2="274.10" stroke="#5b66f6" stroke-width="2.2"/>
<line x1="88.37" y1="292.43" x2="118.37" y2="292.43" stroke="#5b66f6" stroke-width="2.2"/>
<line x1="144.84" y1="345.07" x2="174.84" y2="345.07" stroke="#5b66f6" stroke-width="2.2"/>
<line x1="201.31" y1="343.90" x2="231.31" y2="343.90" stroke="#5b66f6" stroke-width="2.2"/>
<line x1="257.78" y1="350.71" x2="287.78" y2="350.71" stroke="#5b66f6" stroke-width="2.2"/>
<line x1="314.25" y1="394.89" x2="344.25" y2="394.89" stroke="#5b66f6" stroke-width="2.2"/>
<line x1="370.72" y1="325.80" x2="400.72" y2="325.80" stroke="#5b66f6" stroke-width="2.2"/>
<line x1="427.19" y1="368.10" x2="457.19" y2="368.10" stroke="#5b66f6" stroke-width="2.2"/>
<line x1="483.66" y1="333.79" x2="513.66" y2="333.79" stroke="#5b66f6" stroke-width="2.2"/>
<line x1="540.13" y1="393.72" x2="570.13" y2="393.72" stroke="#5b66f6" stroke-width="2.2"/>
<line x1="596.60" y1="412.51" x2="626.60" y2="412.51" stroke="#5b66f6" stroke-width="2.2"/>
<line x1="653.07" y1="405.00" x2="683.07" y2="405.00" stroke="#5b66f6" stroke-width="2.2"/>
<path d="M31.90,274.10 L61.90,274.10 L88.37,304.65 L118.37,304.65 L144.84,291.25 L174.84,291.25 L201.31,335.91 L231.31,335.91 L257.78,330.03 L287.78,330.03 L314.25,373.04 L344.25,373.04 L370.72,351.88 L400.72,351.88 L427.19,351.18 L457.19,351.18 L483.66,356.35 L513.66,356.35 L540.13,423.09 L570.13,423.09 L596.60,415.10 L626.60,415.10 L653.07,405.00 L683.07,405.00" fill="none" stroke="#e5333c" stroke-width="2.2" stroke-dasharray="9.2,8" stroke-dashoffset="0"/>
<line x1="31.90" y1="274.10" x2="61.90" y2="274.10" stroke="#e5333c" stroke-width="2.2"/>
<line x1="88.37" y1="304.65" x2="118.37" y2="304.65" stroke="#e5333c" stroke-width="2.2"/>
<line x1="144.84" y1="291.25" x2="174.84" y2="291.25" stroke="#e5333c" stroke-width="2.2"/>
<line x1="201.31" y1="335.91" x2="231.31" y2="335.91" stroke="#e5333c" stroke-width="2.2"/>
<line x1="257.78" y1="330.03" x2="287.78" y2="330.03" stroke="#e5333c" stroke-width="2.2"/>
<line x1="314.25" y1="373.04" x2="344.25" y2="373.04" stroke="#e5333c" stroke-width="2.2"/>
<line x1="370.72" y1="351.88" x2="400.72" y2="351.88" stroke="#e5333c" stroke-width="2.2"/>
<line x1="427.19" y1="351.18" x2="457.19" y2="351.18" stroke="#e5333c" stroke-width="2.2"/>
<line x1="483.66" y1="356.35" x2="513.66" y2="356.35" stroke="#e5333c" stroke-width="2.2"/>
<line x1="540.13" y1="423.09" x2="570.13" y2="423.09" stroke="#e5333c" stroke-width="2.2"/>
<line x1="596.60" y1="415.10" x2="626.60" y2="415.10" stroke="#e5333c" stroke-width="2.2"/>
<line x1="653.07" y1="405.00" x2="683.07" y2="405.00" stroke="#e5333c" stroke-width="2.2"/>
</g>
<rect x="32.8" y="250.6" width="649.20" height="188.90" fill="none" stroke="#1a1a1a" stroke-width="1.5"/>
<g id="t_s0" transform="translate(41.720,273.300) scale(0.7941,1)"><text x="0" y="0" font-family="Liberation Serif" font-weight="bold" font-size="12" fill="#111">*</text></g>
<g id="t_s1" transform="translate(89.474,287.000) scale(0.9902,1)"><text x="0" y="0" font-family="Liberation Serif" font-weight="bold" font-size="12" fill="#111">*NO<tspan font-size="7.6" dy="3">3</tspan></text></g>
<g id="t_s2" transform="translate(141.293,287.000) scale(0.9854,1)"><text x="0" y="0" font-family="Liberation Serif" font-weight="bold" font-size="12" fill="#111">*NO<tspan font-size="7.6" dy="3">3</tspan><tspan dy="-3">H</tspan></text></g>
<g id="t_s3" transform="translate(202.919,331.100) scale(1.0039,1)"><text x="0" y="0" font-family="Liberation Serif" font-weight="bold" font-size="12" fill="#111">*NO<tspan font-size="7.6" dy="3">2</tspan></text></g>
<g id="t_s4" transform="translate(254.513,322.500) scale(0.9738,1)"><text x="0" y="0" font-family="Liberation Serif" font-weight="bold" font-size="12" fill="#111">*NO<tspan font-size="7.6" dy="3">2</tspan><tspan dy="-3">H</tspan></text></g>
<g id="t_s5" transform="translate(319.279,369.300) scale(1.0034,1)"><text x="0" y="0" font-family="Liberation Serif" font-weight="bold" font-size="12" fill="#111">*NO</text></g>
<g id="t_s6" transform="translate(369.659,322.800) scale(1.0085,1)"><text x="0" y="0" font-family="Liberation Serif" font-weight="bold" font-size="12" fill="#111">*NOH</text></g>
<g id="t_s7" transform="translate(421.879,347.900) scale(0.9837,1)"><text x="0" y="0" font-family="Liberation Serif" font-weight="bold" font-size="12" fill="#111">*NHOH</text></g>
<g id="t_s8" transform="translate(473.893,328.200) scale(0.9660,1)"><text x="0" y="0" font-family="Liberation Serif" font-weight="bold" font-size="12" fill="#111">*NH<tspan font-size="7.6" dy="3">2</tspan><tspan dy="-3">OH</tspan></text></g>
<g id="t_s9" transform="translate(539.459,389.200) scale(1.0318,1)"><text x="0" y="0" font-family="Liberation Serif" font-weight="bold" font-size="12" fill="#111">*NH<tspan font-size="7.6" dy="3">2</tspan></text></g>
<g id="t_s10" transform="translate(596.787,408.300) scale(0.9962,1)"><text x="0" y="0" font-family="Liberation Serif" font-weight="bold" font-size="12" fill="#111">*NH<tspan font-size="7.6" dy="3">3</tspan></text></g>
<g id="t_s11" transform="translate(647.765,399.500) scale(0.9856,1)"><text x="0" y="0" font-family="Liberation Serif" font-weight="bold" font-size="12" fill="#111">*+NH<tspan font-size="7.6" dy="3">3</tspan></text></g>
<g id="t_pds0" transform="translate(356.059,377.700) scale(0.9551,1)"><text x="0" y="0" font-family="Liberation Serif" font-weight="bold" font-size="12.3" fill="#e39a5c">PDS = 1.51 eV</text></g>
<g id="t_pds1" transform="translate(356.124,391.900) scale(0.9551,1)"><text x="0" y="0" font-family="Liberation Serif" font-weight="bold" font-size="12.3" fill="#5b66f6">PDS = 2.92 eV</text></g>
<g id="t_pds2" transform="translate(356.067,405.300) scale(0.9425,1)"><text x="0" y="0" font-family="Liberation Serif" font-weight="bold" font-size="12.3" fill="#e5333c">PDS = 0.91 eV</text></g>
<line x1="581.5" y1="262.4" x2="611.8" y2="262.4" stroke="#e39a5c" stroke-width="2.2"/>
<g id="t_lgd0" transform="translate(614.088,266.700) scale(1.0179,1)"><text x="0" y="0" font-family="Liberation Serif" font-weight="bold" font-size="12.4" fill="#111">Co/NC</text></g>
<line x1="581.5" y1="277.9" x2="611.8" y2="277.9" stroke="#5b66f6" stroke-width="2.2"/>
<g id="t_lgd1" transform="translate(614.032,282.000) scale(1.0448,1)"><text x="0" y="0" font-family="Liberation Serif" font-weight="bold" font-size="12.4" fill="#111">Fe/NC</text></g>
<line x1="581.5" y1="293.3" x2="611.8" y2="293.3" stroke="#e5333c" stroke-width="2.2"/>
<g id="t_lgd2" transform="translate(614.059,297.600) scale(1.0289,1)"><text x="0" y="0" font-family="Liberation Serif" font-weight="bold" font-size="12.4" fill="#111">Fe<tspan font-size="8.2" dy="3">2</tspan><tspan dy="-3">Co</tspan><tspan font-size="8.2" dy="3">1</tspan><tspan dy="-3">/NC</tspan></text></g>
</svg>
</body></html>
